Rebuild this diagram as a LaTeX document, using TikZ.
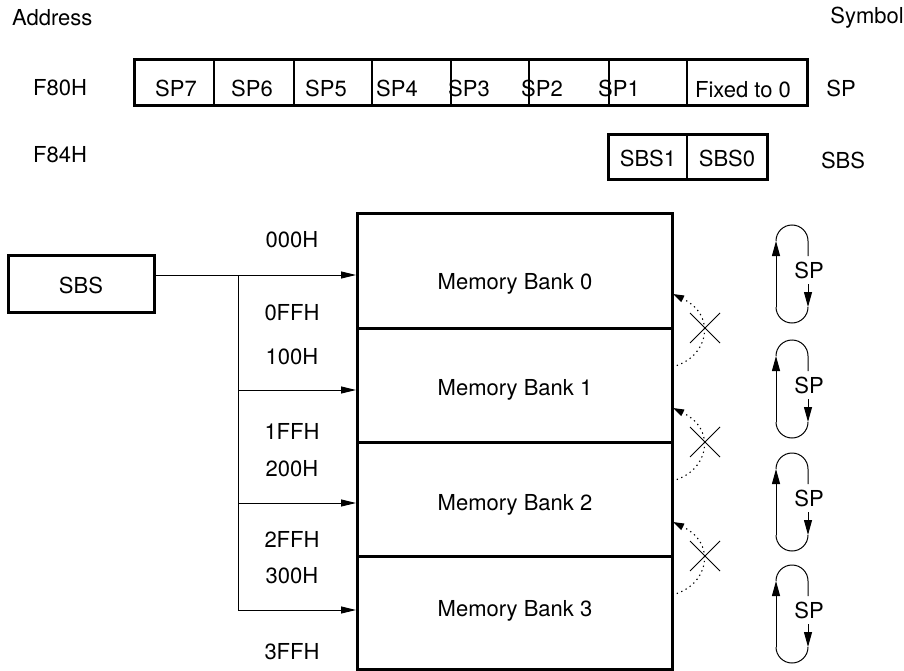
\documentclass[tikz,border=0pt]{standalone}
\usepackage{fontspec}
\setmainfont{TeX Gyre Heros}
\usetikzlibrary{arrows.meta}
\begin{document}
\begin{tikzpicture}[x=1pt,y=-1pt,
  txt/.style={inner sep=0pt,font=\fontsize{22}{26}\selectfont},
  thickbox/.style={draw,line width=3pt,inner sep=0pt},
  cell/.style={draw,line width=1.8pt,inner sep=0pt},
  bankbox/.style={draw,line width=3pt,inner sep=0pt,minimum width=315pt},
  arr/.style={line width=0.9pt,-{Triangle[length=15pt,width=7pt]}},
  dotarr/.style={line width=1.1pt,dash pattern=on 1.3pt off 3.6pt,-{Triangle[length=11pt,width=7pt]}},
  crossln/.style={line width=0.8pt},
  loopln/.style={line width=1pt},
  looparr/.style={line width=1pt,-{Triangle[length=15pt,width=8pt]}}]
\useasboundingbox (0,0) rectangle (904,671);

% headers
\node[txt,anchor=west] (addr) at (12,18) {Address};
\node[txt,anchor=east] (sym) at (904,18) {Symbol};
\node[txt] (f80) at (60,88) {F80H};
\node[txt] (f84) at (60,155) {F84H};
\node[txt] (symsp) at (841,88) {SP};
\node[txt] (symsbs) at (843,160) {SBS};

% SP register
\foreach \a/\b [count=\i] in {134/214,214/294,294/372,372/451,451/529,529/609,609/687,687/807}{
  \node[cell,minimum width={\b-\a},minimum height=46pt] (c\i) at ({(\a+\b)/2},83) {};
}
\node[thickbox,minimum width=673pt,minimum height=46pt] (spreg) at (470.5,83) {};
\node[txt] (t7) at (176,88) {SP7};
\node[txt] (t6) at (252,88) {SP6};
\node[txt] (t5) at (326,88) {SP5};
\node[txt,anchor=west] (t4) at (376,88) {SP4};
\node[txt,anchor=west] (t3) at (448,88) {SP3};
\node[txt,anchor=west] (t2) at (521,88) {SP2};
\node[txt,anchor=west] (t1) at (598,88) {SP1};
\node[txt] (t0) at (743,90) {Fixed to 0};

% SBS register
\node[cell,minimum width=79pt,minimum height=45pt] (s1) at (647.5,157.5) {};
\node[cell,minimum width=80pt,minimum height=45pt] (s0) at (727,157.5) {};
\node[thickbox,minimum width=159pt,minimum height=45pt] (sbsreg) at (687.5,157.5) {};
\node[txt] (ts1) at (648,158) {SBS1};
\node[txt] (ts0) at (727,158) {SBS0};

% memory banks
\node[bankbox,minimum height=115pt] (b0) at (514.5,270.5) {};
\node[bankbox,minimum height=114pt] (b1) at (514.5,385) {};
\node[bankbox,minimum height=114pt] (b2) at (514.5,499) {};
\node[bankbox,minimum height=113pt] (b3) at (514.5,612.5) {};
\node[txt] (m0) at (515,284) {Memory Bank 0};
\node[txt] (m1) at (515,390) {Memory Bank 1};
\node[txt] (m2) at (515,505) {Memory Bank 2};
\node[txt] (m3) at (515,611) {Memory Bank 3};

% address labels
\foreach \t/\y [count=\i] in {000H/240,0FFH/313,100H/357,1FFH/431,200H/469,2FFH/539,300H/576,3FFH/652}{
  \node[txt] (ad\i) at (292,\y) {\t};
}

% SBS box and bus
\node[thickbox,minimum width=146pt,minimum height=57pt] (sbs) at (81,284) {};
\node[txt] (tsbs) at (81,285) {SBS};
\coordinate (a0) at (356,275);
\coordinate (a1) at (356,390);
\coordinate (a2) at (356,503);
\coordinate (a3) at (356,610);
\coordinate (bus0) at (238,275);
\coordinate (bus3) at (238,610);
\draw[arr] (sbs.east |- a0) -- (a0);
\draw[line width=0.9pt] (bus0) -- (bus3);
\draw[arr] (bus3) -- (a3);
\draw[arr] (bus0 |- a1) -- (a1);
\draw[arr] (bus0 |- a2) -- (a2);

% dotted returns and crosses
\foreach \yb in {328,442,556}{
  \draw[dotarr] (672,\yb+39) .. controls (708,\yb+30) and (718,\yb-12) .. (673,\yb-34);
  \draw[crossln] (690,\yb-15) -- (720,\yb+15);
  \draw[crossln] (690,\yb+15) -- (720,\yb-15);
}

% SP loops
\foreach \top in {225,340,453,565}{
  \draw[loopln] (776,\top+16) arc[start angle=180,end angle=360,radius=16] -- (808,\top+31);
  \node[txt] at (809,\top+45) {SP};
  \draw[looparr] (808,\top+59) -- (808,\top+82);
  \draw[loopln] (808,\top+82) arc[start angle=0,end angle=180,radius=16];
  \draw[looparr] (776,\top+82) -- (776,\top+16);
}
\end{tikzpicture}
\end{document}
